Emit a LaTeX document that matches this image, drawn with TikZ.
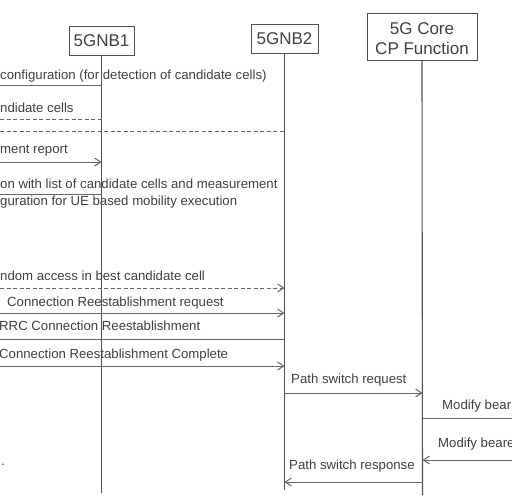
\documentclass[tikz,border=0pt]{standalone}
\usepackage{fontspec}
\setmainfont{Liberation Sans}
\usetikzlibrary{arrows.meta}
\definecolor{txt}{HTML}{404040}
\definecolor{ln}{HTML}{505050}
\definecolor{msgln}{HTML}{666666}
\begin{document}
\begin{tikzpicture}[x=1pt,y=-1pt,
  hdr/.style={draw=ln,line width=1pt,inner sep=0pt,text=txt,font=\fontsize{17}{20}\selectfont,align=center},
  hdrtxt/.style={inner sep=0pt,text=txt,font=\fontsize{17}{20}\selectfont,align=center},
  life/.style={draw=ln,line width=1.1pt},
  msg/.style={anchor=base west,inner sep=0pt,text=txt,font=\fontsize{13.2}{15}\selectfont},
  mline/.style={draw=msgln,line width=1pt},
  arr/.style={mline,-{Straight Barb[length=6pt,width=8pt]}},
  dsh/.style={dash pattern=on 4pt off 2.5pt}]
\useasboundingbox (0,0) rectangle (512,496);
\clip (0,0) rectangle (512,496);
% headers
\node[hdr,minimum width=65pt,minimum height=29pt] (gnb1) at (101.5,40.5) {5GNB1};
\node[hdr,minimum width=67pt,minimum height=29pt] (gnb2) at (284.5,38.5) {5GNB2};
\node[hdr,minimum width=110pt,minimum height=47pt] (core) at (422,36.5) {};
\node[hdrtxt] (coretxt) at (422,39) {5G Core\\CP Function};
% lifeline ends
\coordinate (gnb1e) at (101.5,493);
\coordinate (gnb2e) at (284.5,490);
\coordinate (coree) at (422.5,495);
\draw[life] (gnb1.south) -- (gnb1e);
\draw[life] (gnb2.south) -- (gnb2e);
\draw[life] (core.south) -- (coree);
% left edge coordinates
\coordinate (a1) at (0,85);
\coordinate (a2) at (0,119);
\coordinate (a3) at (0,131);
\coordinate (a4) at (0,162);
\coordinate (a5) at (0,194);
\coordinate (a6) at (0,288);
\coordinate (a7) at (0,313);
\coordinate (a8) at (0,339);
\coordinate (a9) at (0,366);
\coordinate (r1) at (512,418);
\coordinate (r2) at (512,460);
% labels
\node[msg] (t1) at (0,79) {configuration (for detection of candidate cells)};
\node[msg] (t2) at (0,112) {ndidate cells};
\node[msg] (t3) at (0,153) {ment report};
\node[msg] (t4) at (0,188) {on with list of candidate cells and measurement};
\node[msg] (t5) at (0,205) {guration for UE based mobility execution};
\node[msg] (t6) at (0,280) {ndom access in best candidate cell};
\node[msg] (t7) at (7,306) {Connection Reestablishment request};
\node[msg] (t8) at (-1,330) {RRC Connection Reestablishment};
\node[msg] (t9) at (-1,358) {Connection Reestablishment Complete};
\node[msg] (t10) at (291,383) {Path switch request};
\node[msg] (t11) at (442,409) {Modify bear};
\node[msg] (t12) at (438,447) {Modify beare};
\node[msg] (t13) at (289,469) {Path switch response};
\node[msg] (t14) at (1,465) {.};
% connectors
\draw[mline] (a1) -- (a1 -| gnb1e);
\draw[mline,dsh] (a2) -- (a2 -| gnb1e);
\draw[mline,dsh] (a3) -- (a3 -| gnb2e);
\draw[arr] (a4) -- (a4 -| gnb1e);
\draw[mline] (a5) -- (a5 -| gnb1e);
\draw[arr,dsh] (a6) -- (a6 -| gnb2e);
\draw[arr] (a7) -- (a7 -| gnb2e);
\draw[mline] (a8) -- (a8 -| gnb2e);
\draw[arr] (a9) -- (a9 -| gnb2e);
\coordinate (p1) at (284.5,393);
\draw[arr] (p1) -- (p1 -| coree);
\draw[mline] (r1 -| coree) -- (r1);
\draw[arr] (r2) -- (r2 -| coree);
\coordinate (p2) at (422.5,482);
\draw[arr] (p2) -- (p2 -| gnb2e);
\end{tikzpicture}
\end{document}
